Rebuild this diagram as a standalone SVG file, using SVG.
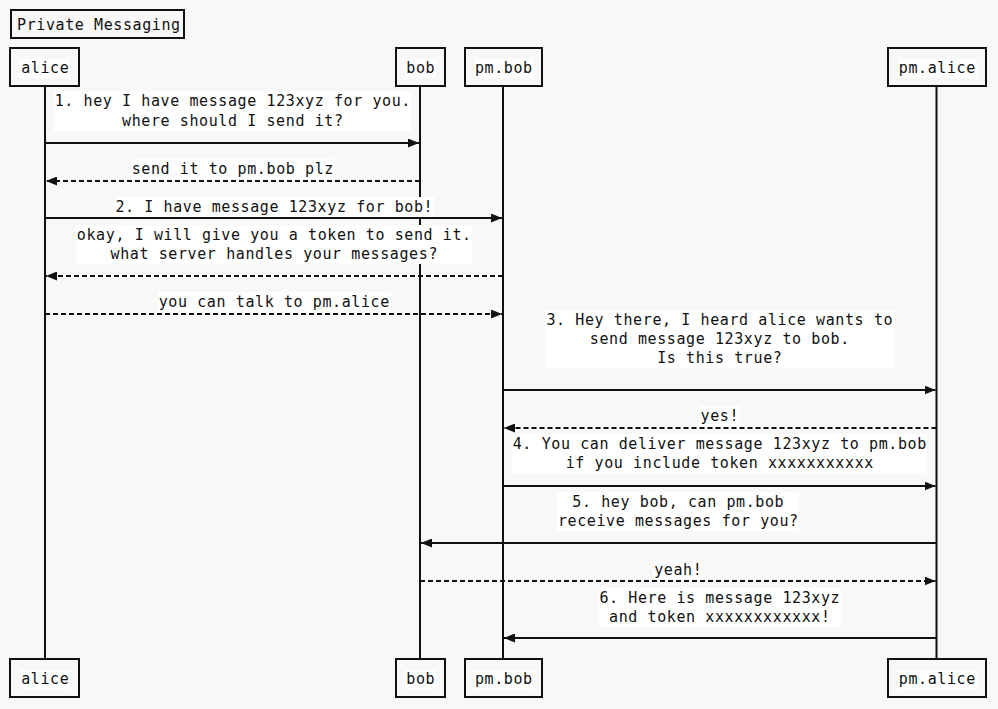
<svg xmlns="http://www.w3.org/2000/svg" width="998" height="709" viewBox="0 0 998 709">
<style>
text{font-family:"DejaVu Sans Mono","Liberation Mono",monospace;font-size:15px;letter-spacing:0.6px;fill:#111}
.c{text-anchor:middle}
.box{fill:#f8f8f8;stroke:#111;stroke-width:2}
.tbg{fill:#fff}
.life{stroke:#111;stroke-width:2}
.msg{stroke:#111;stroke-width:2;fill:none;marker-end:url(#ah)}
.dash{stroke-dasharray:5,3}
</style>
<defs>
<marker id="ah" markerUnits="userSpaceOnUse" markerWidth="11" markerHeight="9" refX="11" refY="4.5" orient="auto">
<path d="M0,0 L11,4.5 L0,9 z" fill="#111"/>
</marker>
</defs>
<rect width="998" height="709" fill="#f8f8f8"/>
<g id="title">
<rect class="box" x="11" y="10" width="173" height="28"/>
<text x="17" y="30">Private Messaging</text>
</g>
<g id="lifelines">
<line class="life" x1="45" y1="86" x2="45" y2="659"/>
<line class="life" x1="420" y1="86" x2="420" y2="659"/>
<line class="life" x1="503" y1="86" x2="503" y2="659"/>
<line class="life" x1="936.5" y1="86" x2="936.5" y2="659"/>
</g>
<g id="alice">
<rect class="box" x="10" y="48" width="69" height="38"/>
<rect class="tbg" x="20" y="59" width="50" height="19"/>
<text class="c" x="45.3" y="73">alice</text>
<rect class="box" x="10" y="659" width="69" height="38"/>
<rect class="tbg" x="20" y="670" width="50" height="19"/>
<text class="c" x="45.3" y="684">alice</text>
</g>
<g id="bob">
<rect class="box" x="396" y="48" width="49" height="38"/>
<rect class="tbg" x="405" y="59" width="31" height="19"/>
<text class="c" x="420.8" y="73">bob</text>
<rect class="box" x="396" y="659" width="49" height="38"/>
<rect class="tbg" x="405" y="670" width="31" height="19"/>
<text class="c" x="420.8" y="684">bob</text>
</g>
<g id="pm.bob">
<rect class="box" x="465" y="48" width="77" height="38"/>
<rect class="tbg" x="474" y="59" width="60" height="19"/>
<text class="c" x="503.8" y="73">pm.bob</text>
<rect class="box" x="465" y="659" width="77" height="38"/>
<rect class="tbg" x="474" y="670" width="60" height="19"/>
<text class="c" x="503.8" y="684">pm.bob</text>
</g>
<g id="pm.alice">
<rect class="box" x="888" y="48" width="98" height="38"/>
<rect class="tbg" x="898" y="59" width="79" height="19"/>
<text class="c" x="937.3" y="73">pm.alice</text>
<rect class="box" x="888" y="659" width="98" height="38"/>
<rect class="tbg" x="898" y="670" width="79" height="19"/>
<text class="c" x="937.3" y="684">pm.alice</text>
</g>
<g id="connectors">
<line class="msg" x1="45" y1="143" x2="419" y2="143"/>
<line class="msg dash" x1="420" y1="181" x2="46" y2="181"/>
<line class="msg" x1="45" y1="218" x2="502" y2="218"/>
<line class="msg dash" x1="503" y1="276" x2="46" y2="276"/>
<line class="msg dash" x1="45" y1="314" x2="502" y2="314"/>
<line class="msg" x1="503" y1="390" x2="935.5" y2="390"/>
<line class="msg dash" x1="936.5" y1="428" x2="504" y2="428"/>
<line class="msg" x1="503" y1="486" x2="935.5" y2="486"/>
<line class="msg" x1="936.5" y1="543" x2="421" y2="543"/>
<line class="msg dash" x1="420" y1="581" x2="935.5" y2="581"/>
<line class="msg" x1="936.5" y1="638" x2="504" y2="638"/>
</g>
<g id="labels">
<rect class="tbg" x="54" y="91" width="357" height="40"/>
<text class="c" x="232.8" y="106">1. hey I have message 123xyz for you.</text>
<text class="c" x="232.8" y="126">where should I send it?</text>
<rect class="tbg" x="131" y="159" width="204" height="20"/>
<text class="c" x="232.8" y="174">send it to pm.bob plz</text>
<rect class="tbg" x="115" y="197" width="319" height="20"/>
<text class="c" x="274.3" y="212">2. I have message 123xyz for bob!</text>
<rect class="tbg" x="76" y="225" width="396" height="39"/>
<text class="c" x="274.3" y="240">okay, I will give you a token to send it.</text>
<text class="c" x="274.3" y="259">what server handles your messages?</text>
<rect class="tbg" x="158" y="292" width="233" height="20"/>
<text class="c" x="274.3" y="307">you can talk to pm.alice</text>
<rect class="tbg" x="546" y="310" width="348" height="58"/>
<text class="c" x="719.8" y="325">3. Hey there, I heard alice wants to</text>
<text class="c" x="719.8" y="344">send message 123xyz to bob.</text>
<text class="c" x="719.8" y="363">Is this true?</text>
<rect class="tbg" x="699" y="406" width="41" height="20"/>
<text class="c" x="719.8" y="421">yes!</text>
<rect class="tbg" x="512" y="434" width="415" height="39"/>
<text class="c" x="719.8" y="449">4. You can deliver message 123xyz to pm.bob</text>
<text class="c" x="719.8" y="468">if you include token xxxxxxxxxxx</text>
<rect class="tbg" x="557" y="492" width="242" height="39"/>
<text class="c" x="678.3" y="507">5. hey bob, can pm.bob</text>
<text class="c" x="678.3" y="526">receive messages for you?</text>
<rect class="tbg" x="653" y="560" width="50" height="20"/>
<text class="c" x="678.3" y="575">yeah!</text>
<rect class="tbg" x="599" y="588" width="242" height="39"/>
<text class="c" x="719.8" y="603">6. Here is message 123xyz</text>
<text class="c" x="719.8" y="622">and token xxxxxxxxxxxx!</text>
</g>
</svg>
